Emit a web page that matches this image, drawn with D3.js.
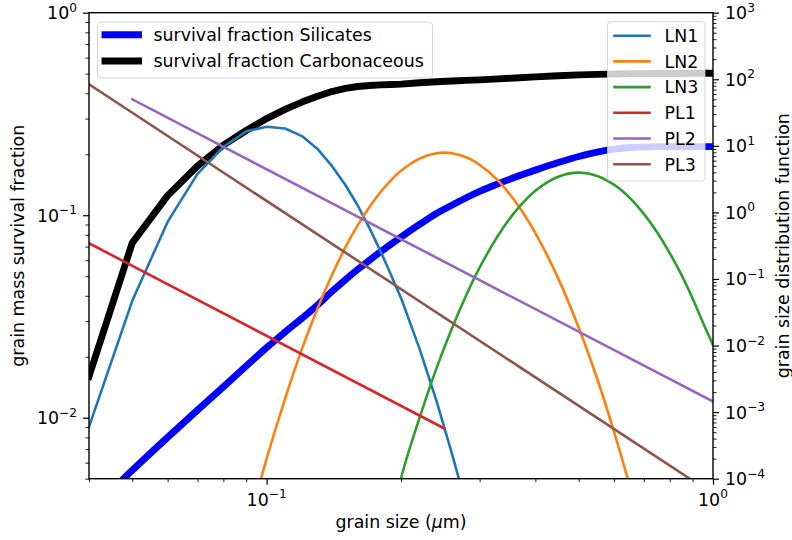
<!DOCTYPE html>
<html>
<head>
<meta charset="utf-8">
<script src="https://cdn.jsdelivr.net/npm/d3@7"></script>
<style>
  body { margin: 0; background: #fff; }
  svg text { font-family: "DejaVu Sans", sans-serif; font-size: 17.4px; fill: #000; }
</style>
</head>
<body>
<svg id="chart" width="792" height="540"></svg>
<script>
// grain sizes (micron) shared by the sampled curves
var sizes = [0.04, 0.05, 0.06, 0.07, 0.08, 0.09, 0.10, 0.11, 0.12, 0.13, 0.14, 0.15, 0.16, 0.17, 0.18, 0.19,
  0.20, 0.22, 0.24, 0.26, 0.28, 0.30, 0.33, 0.36, 0.40, 0.45, 0.50, 0.55, 0.60, 0.65, 0.70, 0.75, 0.80,
  0.85, 0.90, 0.95, 1.00];

// survival fractions (left axis)
var survSilicates = [0.0034, 0.0055, 0.0080, 0.0109, 0.0142, 0.018, 0.0222, 0.0265, 0.031, 0.036, 0.042, 0.048,
  0.054, 0.060, 0.066, 0.072, 0.078, 0.090, 0.102, 0.112, 0.122, 0.131, 0.143, 0.154, 0.167, 0.182, 0.195,
  0.205, 0.212, 0.216, 0.217, 0.218, 0.218, 0.218, 0.218, 0.218, 0.218];
var survCarbon = [0.016, 0.073, 0.125, 0.175, 0.222, 0.262, 0.300, 0.333, 0.362, 0.387, 0.408, 0.423, 0.432,
  0.437, 0.440, 0.442, 0.444, 0.451, 0.456, 0.460, 0.463, 0.466, 0.471, 0.476, 0.482, 0.488, 0.493, 0.496,
  0.498, 0.500, 0.500, 0.501, 0.501, 0.501, 0.502, 0.502, 0.502];

// size distributions (right axis); null = not drawn
var ln1 = [6e-4, 0.047, 0.72, 3.8, 9.6, 16.5, 19.4, 18.2, 14.0, 9.0, 5.0, 2.6, 1.27, 0.58, 0.26, 0.115, 0.052,
  9e-3, 1.5e-3, 2.4e-4, 4e-5, null, null, null, null, null, null, null, null, null, null, null, null, null,
  null, null, null];
var ln2 = [null, null, null, null, null, 1.5e-5, 2.0e-4, 1.6e-3, 8.9e-3, 0.036, 0.114, 0.295, 0.643, 1.21,
  2.03, 3.06, 4.22, 6.43, 7.74, 7.76, 6.73, 5.21, 3.0, 1.48, 0.49, 0.102, 0.0187, 3.2e-3, 5.1e-4, 8.1e-5,
  1.3e-5, null, null, null, null, null, null];
var ln3 = [null, null, null, null, null, null, null, null, null, null, null, null, null, null, null, 1.5e-5,
  1.0e-4, 8.1e-4, 4.5e-3, 0.018, 0.057, 0.148, 0.45, 1.02, 2.12, 3.44, 3.96, 3.53, 2.61, 1.67, 0.95, 0.50,
  0.245, 0.115, 0.051, 0.022, 0.0102];
var pl1Sizes = [0.04, 0.25], pl1 = [0.344, 5.7e-4];
var pl2Sizes = [0.05, 1.00], pl2 = [50, 1.44e-3];
var pl3Sizes = [0.04, 1.00], pl3 = [84, 5.9e-5];

var xTicks = [0.1, 1];
var leftTicks = [0.01, 0.1, 1];
var rightTicks = [1e-4, 1e-3, 1e-2, 1e-1, 1, 10, 100, 1000];

var svg = d3.select("#chart");
var pLeft = 89, pRight = 713, pTop = 12.7, pBottom = 478.7;

var x = d3.scaleLog().domain([0.04, 1]).range([pLeft, pRight]);
var yL = d3.scaleLog().domain([0.005, 1]).range([pBottom, pTop]);
var yR = d3.scaleLog().domain([1e-4, 1e3]).range([pBottom, pTop]);

svg.append("defs").append("clipPath").attr("id", "plotclip")
  .append("rect").attr("x", pLeft).attr("y", pTop).attr("width", pRight - pLeft).attr("height", pBottom - pTop);

function pairs(xs, ys) {
  return xs.map(function(s, i) { return [s, ys[i]]; }).filter(function(d) { return d[1] != null; });
}

var lineL = d3.line().x(function(d) { return x(d[0]); }).y(function(d) { return yL(d[1]); });
var lineR = d3.line().x(function(d) { return x(d[0]); }).y(function(d) { return yR(d[1]); });

var plot = svg.append("g").attr("clip-path", "url(#plotclip)");

// left axis curves
plot.append("path").attr("d", lineL.curve(d3.curveCatmullRom)(pairs(sizes, survSilicates)))
  .attr("fill", "none").attr("stroke", "#0000ff").attr("stroke-width", 6.9)
  .attr("stroke-linejoin", "round").attr("stroke-linecap", "square");
plot.append("path").attr("d", lineL.curve(d3.curveLinear)(pairs(sizes, survCarbon)))
  .attr("fill", "none").attr("stroke", "#000").attr("stroke-width", 6.9)
  .attr("stroke-linejoin", "round").attr("stroke-linecap", "square");

// right axis curves
var rightSeries = [
  { name: "LN1", color: "#1f77b4", pts: pairs(sizes, ln1), curve: d3.curveLinear },
  { name: "LN2", color: "#ff7f0e", pts: pairs(sizes, ln2), curve: d3.curveCatmullRom },
  { name: "LN3", color: "#2ca02c", pts: pairs(sizes, ln3), curve: d3.curveCatmullRom },
  { name: "PL1", color: "#d62728", pts: pairs(pl1Sizes, pl1), curve: d3.curveLinear },
  { name: "PL2", color: "#9467bd", pts: pairs(pl2Sizes, pl2), curve: d3.curveLinear },
  { name: "PL3", color: "#8c564b", pts: pairs(pl3Sizes, pl3), curve: d3.curveLinear }
];
rightSeries.forEach(function(s) {
  plot.append("path").attr("d", lineR.curve(s.curve)(s.pts))
    .attr("fill", "none").attr("stroke", s.color).attr("stroke-width", 2.6)
    .attr("stroke-linejoin", "round").attr("stroke-linecap", "square");
});

// ticks
function minorOf(scale, majors) {
  return scale.ticks().filter(function(t) {
    return !majors.some(function(m) { return Math.abs(m - t) / m < 1e-6; });
  });
}
function tickAxis(axisFn, scale, majors, tx, ty) {
  svg.append("g").attr("transform", "translate(" + tx + "," + ty + ")")
    .call(axisFn(scale).tickValues(majors).tickSize(6).tickFormat(""))
    .call(function(g) { g.select(".domain").remove(); g.selectAll("line").attr("stroke-width", 1.2); });
  svg.append("g").attr("transform", "translate(" + tx + "," + ty + ")")
    .call(axisFn(scale).tickValues(minorOf(scale, majors)).tickSize(3.5).tickFormat(""))
    .call(function(g) { g.select(".domain").remove(); g.selectAll("line").attr("stroke-width", 0.9); });
}
tickAxis(d3.axisBottom, x, xTicks, 0, pBottom);
tickAxis(d3.axisLeft, yL, leftTicks, pLeft, 0);
tickAxis(d3.axisRight, yR, rightTicks, pRight, 0);

function powLabel(sel, v) {
  var e = Math.round(Math.log10(v));
  sel.append("tspan").text("10");
  sel.append("tspan").attr("font-size", "12.2px").attr("dy", -7.5)
    .text(e < 0 ? "\u2212" + (-e) : String(e));
}
xTicks.forEach(function(v) {
  svg.append("text").attr("x", x(v)).attr("y", 505.5).attr("text-anchor", "middle").call(powLabel, v);
});
leftTicks.forEach(function(v) {
  svg.append("text").attr("x", 77).attr("y", yL(v) + 6.5).attr("text-anchor", "end").call(powLabel, v);
});
rightTicks.forEach(function(v) {
  svg.append("text").attr("x", 725).attr("y", yR(v) + 6.5).attr("text-anchor", "start").call(powLabel, v);
});

// spines
svg.append("rect").attr("x", pLeft).attr("y", pTop).attr("width", pRight - pLeft).attr("height", pBottom - pTop)
  .attr("fill", "none").attr("stroke", "#000").attr("stroke-width", 1.4);

// axis labels
var xl = svg.append("text").attr("x", (pLeft + pRight) / 2).attr("y", 528).attr("text-anchor", "middle");
xl.append("tspan").text("grain size (");
xl.append("tspan").attr("font-style", "italic").text("\u03bc");
xl.append("tspan").text("m)");
svg.append("text").attr("transform", "translate(24," + (pTop + pBottom) / 2 + ") rotate(-90)")
  .attr("text-anchor", "middle").text("grain mass survival fraction");
svg.append("text").attr("transform", "translate(789," + (pTop + pBottom) / 2 + ") rotate(-90)")
  .attr("text-anchor", "middle").text("grain size distribution function");

// legends
function legend(items, bx, by, bw, bh, lx0, lx1, tx, y0, dy, lw) {
  var g = svg.append("g");
  g.append("rect").attr("x", bx).attr("y", by).attr("width", bw).attr("height", bh).attr("rx", 3.5)
    .attr("fill", "#fff").attr("fill-opacity", 0.8).attr("stroke", "#ccc").attr("stroke-opacity", 0.8);
  items.forEach(function(it, i) {
    var yy = y0 + i * dy;
    g.append("line").attr("x1", lx0).attr("x2", lx1).attr("y1", yy).attr("y2", yy)
      .attr("stroke", it.color).attr("stroke-width", lw).attr("stroke-linecap", "square");
    g.append("text").attr("x", tx).attr("y", yy + 6.3).text(it.name);
  });
}
legend([{ name: "survival fraction Silicates", color: "#0000ff" },
        { name: "survival fraction Carbonaceous", color: "#000" }],
  97.5, 22, 335, 56, 105, 138.5, 153.5, 34.7, 26.3, 6.9);
legend(rightSeries, 607.5, 21.7, 97.5, 159.3, 614.5, 649.5, 664.5, 35.7, 25.7, 2.6);
</script>
</body>
</html>
